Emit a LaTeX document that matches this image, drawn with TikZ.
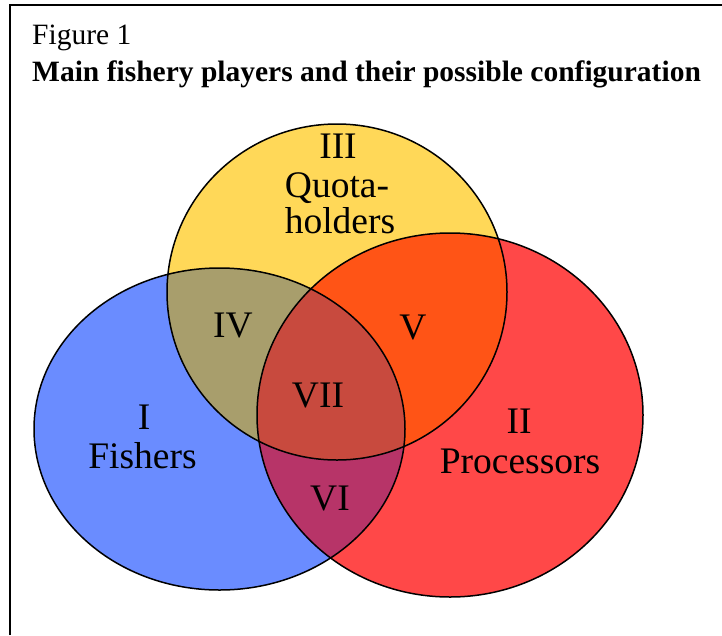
\documentclass[tikz,border=0pt]{standalone}
\usepackage{fontspec}
\setmainfont{Liberation Serif}
\definecolor{blueF}{RGB}{106,140,255}
\definecolor{yellowF}{RGB}{255,216,88}
\definecolor{redF}{RGB}{255,72,72}
\definecolor{regIV}{RGB}{168,158,108}
\definecolor{regV}{RGB}{255,84,22}
\definecolor{regVI}{RGB}{183,52,104}
\definecolor{regVII}{RGB}{200,74,62}
\tikzset{
  titletext/.style={anchor=base west, inner sep=0pt, font=\fontsize{29.5}{37}\selectfont},
  vennlabel/.style={anchor=base, inner sep=0pt, font=\fontsize{37.5}{39}\selectfont},
  outline/.style={draw=black, line width=1.5pt},
  frameline/.style={draw=black, line width=2pt}
}
\newcommand\blueE{(219.5,429) ellipse [x radius=185.5, y radius=161]}
\newcommand\yellowE{(337,292) ellipse [x radius=170, y radius=168]}
\newcommand\redE{(450,415) ellipse [x radius=193, y radius=182]}
\begin{document}
\begin{tikzpicture}[x=1pt,y=-1pt]
\useasboundingbox (0,0) rectangle (722,635);
\coordinate (f1) at (10,635);
\coordinate (f2) at (10,5);
\coordinate (f3) at (722,5);
\draw[frameline] (f1) -- (f2) -- (f3);
% base fills
\fill[blueF] \blueE;
\fill[yellowF] \yellowE;
\fill[redF] \redE;
% overlaps
\begin{scope}
  \clip \blueE;
  \fill[regIV] \yellowE;
  \fill[regVI] \redE;
\end{scope}
\begin{scope}
  \clip \yellowE;
  \fill[regV] \redE;
\end{scope}
\begin{scope}
  \clip \blueE;
  \clip \yellowE;
  \fill[regVII] \redE;
\end{scope}
% outlines
\draw[outline] \blueE;
\draw[outline] \yellowE;
\draw[outline] \redE;
% titles
\node[titletext] (t1) at (32,44) {Figure 1};
\node[titletext, font=\fontsize{29.5}{37}\selectfont\bfseries] (t2) at (32,81) {Main fishery players and their possible configuration};
% labels
\node[vennlabel] (l1a) at (144,429) {I};
\node[vennlabel] (l1b) at (142.5,468) {Fishers};
\node[vennlabel] (l2a) at (519,433) {II};
\node[vennlabel] (l2b) at (520,473) {Processors};
\node[vennlabel] (l3a) at (338,158) {III};
\node[vennlabel] (l3b) at (337,197) {Quota-};
\node[vennlabel] (l3c) at (340,233) {holders};
\node[vennlabel] (l4) at (233,337) {IV};
\node[vennlabel] (l5) at (413,339) {V};
\node[vennlabel] (l6) at (330,510) {VI};
\node[vennlabel] (l7) at (318,407) {VII};
\end{tikzpicture}
\end{document}
